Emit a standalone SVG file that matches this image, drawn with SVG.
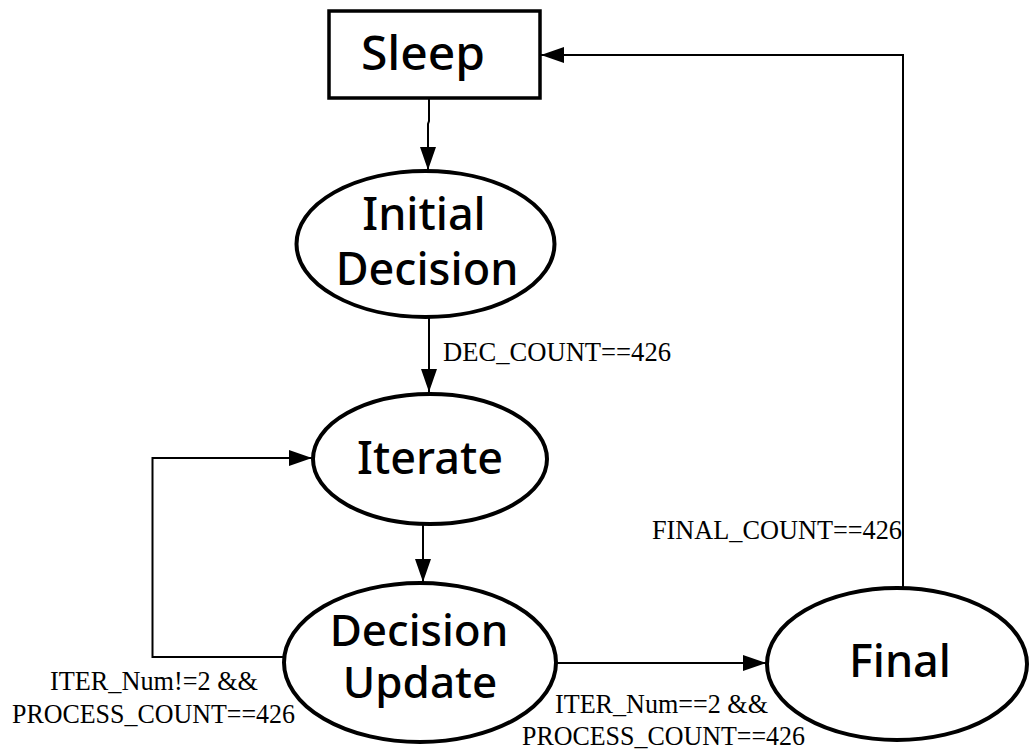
<svg xmlns="http://www.w3.org/2000/svg" width="1030" height="751" viewBox="0 0 1030 751">
  <style>
    .state { fill: #ffffff; stroke: #000000; stroke-width: 4; }
    .box { fill: #ffffff; stroke: #000000; stroke-width: 3.5; }
    .name { font-family: "Noto Sans", "Open Sans", sans-serif; font-weight: 500; font-size: 45px; fill: #000000; text-anchor: middle; }
    .edge { fill: none; stroke: #000000; stroke-width: 2; marker-end: url(#arrow); }
    .cond { font-family: "Liberation Serif", "Times New Roman", serif; font-size: 28px; fill: #000000; }
  </style>
  <defs>
    <marker id="arrow" markerUnits="userSpaceOnUse" markerWidth="26" markerHeight="20" refX="23" refY="8" orient="auto">
      <path d="M0,0 L23,8 L0,16 Z" fill="#000000"/>
    </marker>
  </defs>
  <rect width="1030" height="751" fill="#ffffff"/>

  <!-- transitions -->
  <g id="connectors">
    <path class="edge" d="M429,98 V121 L428,124 V170"/>
    <path class="edge" d="M429,317 V392"/>
    <path class="edge" d="M423,524 V582"/>
    <path class="edge" d="M284,657 H152.5 V458 H312"/>
    <path class="edge" d="M556,663 H766"/>
    <path class="edge" d="M903,588 V55 H541"/>
    <text class="cond" x="443" y="361" textLength="228" lengthAdjust="spacingAndGlyphs">DEC_COUNT==426</text>
    <text class="cond" x="652" y="539" textLength="250" lengthAdjust="spacingAndGlyphs">FINAL_COUNT==426</text>
    <text class="cond" x="50" y="690" textLength="208" lengthAdjust="spacingAndGlyphs">ITER_Num!=2 &amp;&amp;</text>
    <text class="cond" x="12" y="723" textLength="283" lengthAdjust="spacingAndGlyphs">PROCESS_COUNT==426</text>
    <text class="cond" x="555" y="713" textLength="213" lengthAdjust="spacingAndGlyphs">ITER_Num==2 &amp;&amp;</text>
    <text class="cond" x="522" y="745" textLength="283" lengthAdjust="spacingAndGlyphs">PROCESS_COUNT==426</text>
  </g>

  <g id="sleep">
    <rect class="box" x="329" y="11" width="211" height="87"/>
    <text class="name" x="423" y="70" style="font-size:48px">Sleep</text>
  </g>

  <g id="initial-decision">
    <ellipse class="state" cx="425.5" cy="244" rx="129" ry="73"/>
    <text class="name" x="424" y="230">Initial</text>
    <text class="name" x="427" y="285">Decision</text>
  </g>

  <g id="iterate">
    <ellipse class="state" cx="430" cy="459" rx="117" ry="65"/>
    <text class="name" x="430" y="474">Iterate</text>
  </g>

  <g id="decision-update">
    <ellipse class="state" cx="420" cy="662.5" rx="136" ry="79.5"/>
    <text class="name" x="419" y="646" style="font-size:44px">Decision</text>
    <text class="name" x="420" y="698" style="font-size:44px">Update</text>
  </g>

  <g id="final">
    <ellipse class="state" cx="897" cy="664" rx="130" ry="76"/>
    <text class="name" x="900" y="677">Final</text>
  </g>
</svg>
